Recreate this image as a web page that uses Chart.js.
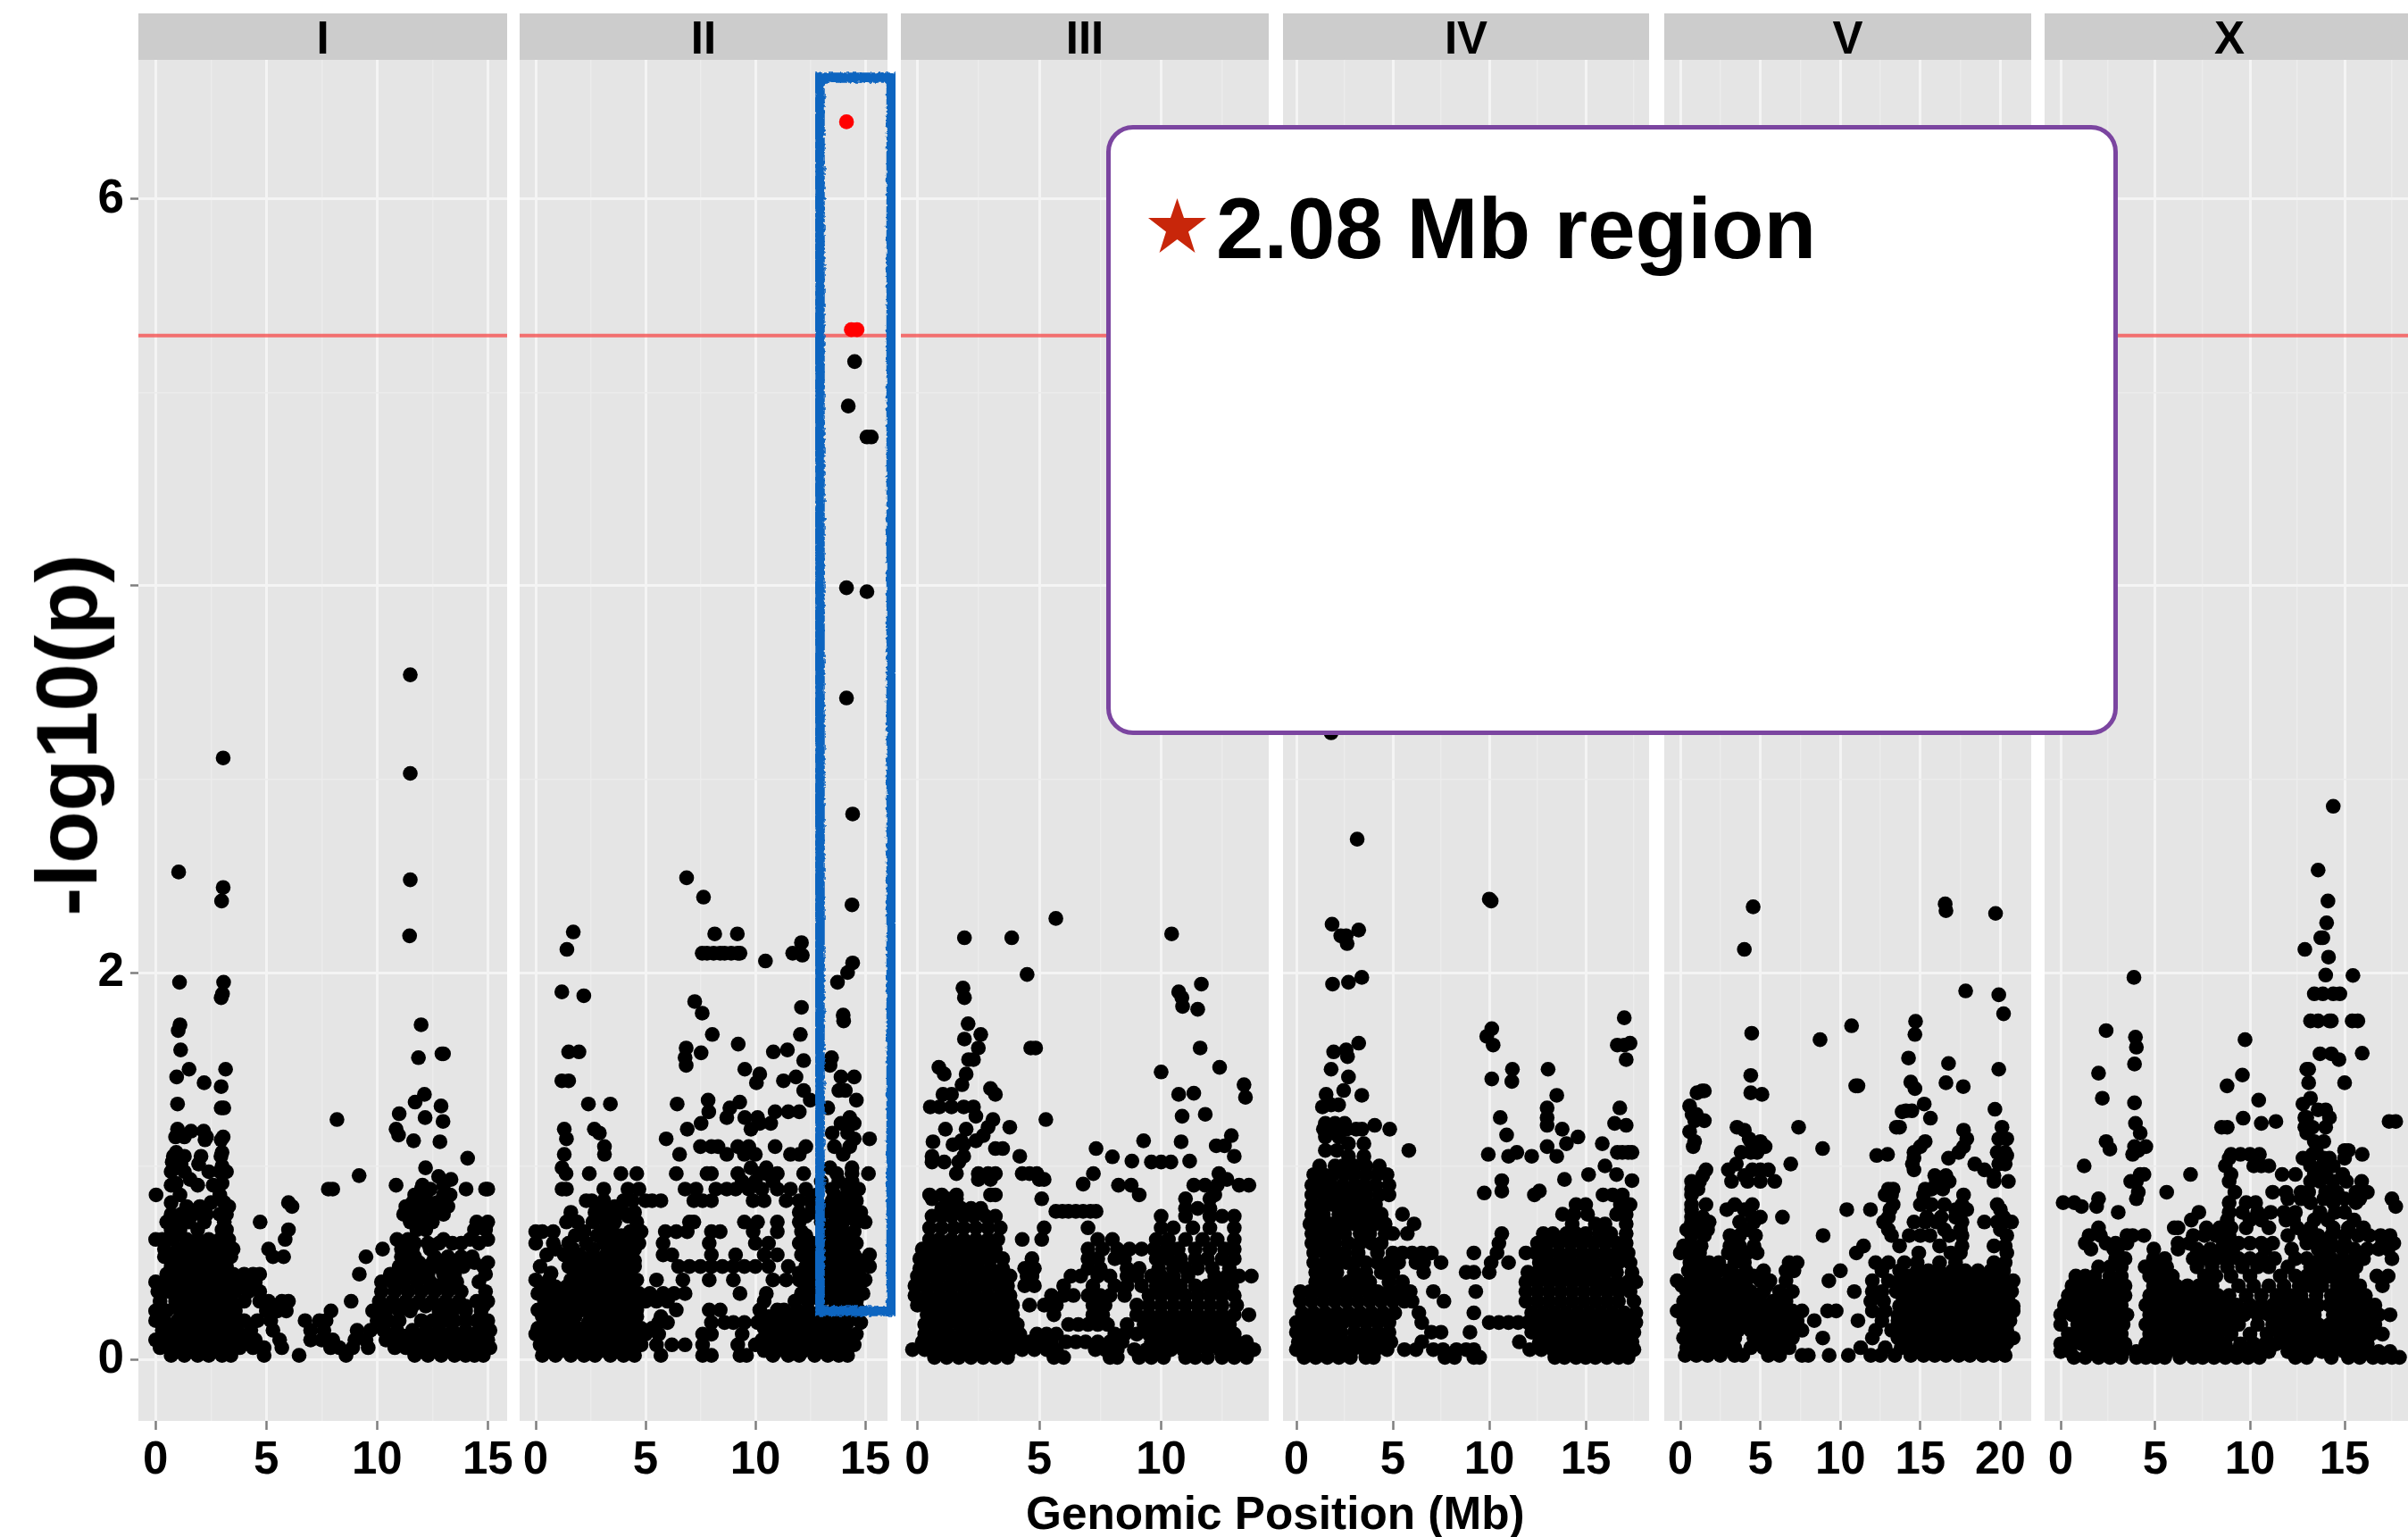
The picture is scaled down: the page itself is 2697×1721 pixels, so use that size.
<!DOCTYPE html>
<html><head><meta charset="utf-8">
<script src="https://cdn.jsdelivr.net/npm/chart.js@4"></script>
<style>
html,body{margin:0;padding:0;background:#fff;width:2697px;height:1721px;overflow:hidden}
canvas{position:absolute;top:0}
.t{position:absolute;font-family:"Liberation Sans",Arial,sans-serif;font-weight:bold;color:#000;white-space:nowrap;line-height:1}
</style></head><body>
<script>
const panelNames=["I","II","III","IV","V","X"];
const xTickLabels=[[0,5,10,15],[0,5,10,15],[0,5,10],[0,5,10,15],[0,5,10,15,20],[0,5,10,15]];
const yTickLabels=[0,2,6];
const threshold=5.295;
// rows: [y, x, x, x ...], in -log10(p) and Mb
const chrI=[[3.54,11.5],[3.11,3.05],[3.03,11.5],[2.52,1.04],[2.48,11.5],[2.44,3.05],[2.37,2.98],[2.19,11.47],[1.95,1.08,3.07],[1.89,3.02],[1.87,2.96],[1.73,1.1,11.99],[1.7,1.02],[1.6,1.13],[1.58,12.93,13],[1.56,11.87],[1.5,1.51,3.16],[1.46,.95],[1.43,2.19],[1.41,2.96],[1.37,12.14],[1.33,11.72],[1.32,.99],[1.31,12.89],[1.3,2.96,3.08],[1.27,11],[1.25,12.17],[1.24,8.19],[1.23,12.98],[1.19,.99,10.86],[1.18,1.6,2.17],[1.16,10.97],[1.15,.9,1.3,2.3,3.05],[1.135,2.23,2.96],[1.13,11.65],[1.125,12.84],[1.07,.93,3],[1.05,.8,1.3,2.05,2.95],[1.04,14.09],[1.02,.75],[1.01,1.15,1.94],[1,3],[.99,12.19],[.97,.7,1.3,2.4,2.9,3.2],[.95,9.19],[.945,12.78],[.93,1.56,13.34],[.91,.93,3],[.9,10.86,1.9,12.05,.7,2.6,13],
[.88,7.8,8,12,12.4,14.02,14.9,15],[.85,1.1,2.9,.02,11.7,12.2,13,13.3],[.81,.7,2.5,3.1,11.6,12.1,12.7,13.1,6],[.79,6.16,11.3,11.9,12.5,13.2,1.4,2,3.3],[.75,1.15,2.9,3.2,11.2,11.6,12,12.6,13,.7,1.7,2.3],[.71,.5,.95,1.5,2.2,3.1,4.72,11.5,12,12.5,14.5,15],[.67,.7,1.1,1.9,3,3.2,6,11.8,12.2,14.4,14.9],[.62,0,.3,.8,1.4,1.9,2.4,2.9,3.3,5.85,10.9,11.4,13,14.2,15],[.6,11.7,12.3,12.8,13.4,13.8,14.6],[.57,.4,1,1.5,2,2.5,3,3.5,5.1,10.25,11.1,11.6,12.4],[.53,.4,.9,1.4,1.9,2.4,2.9,3.4,5.3,5.78,9.5,11.1,11.7,12.6,13.2,13.8,14.3],[.5,11.3,11.9,12.5,13.1,13.7,14.4,15],[.48,.7,1.2,1.7,2.2,2.7,3.2,11,11.6,12.1,12.7,13.3,13.9,14.8],[.44,.5,1,1.5,2,2.5,3,3.5,4,4.4,4.7,9.2,10.6,11.1,11.7,12.3,13,13.5,14.9],[.4,0,.5,1,1.5,2,2.5,3,3.5,4,4.5,10.2,10.7,11.2,11.8,12.4,13,13.6,14.6],[.35,.1,.6,1.1,1.6,2.1,2.6,3.1,3.6,4.2,4.7,10.2,10.8,11.4,12,12.6,13.2,13.8,14.9],[.3,.2,.9,1.4,1.9,2.4,2.9,3.4,4,4.7,5.1,5.7,6,8.83,10.1,10.7,11.3,11.9,12.5,13.1,13.7,14.5,15],[.275,10.4,11,11.6,12.2,12.8,13.4,14,14.8],[.25,0,.5,1.1,1.6,2.1,2.6,3.1,3.6,5,5.5,5.9,7.92,9.8,10.4,11,11.5,12.8,13.4,14,14.7],[.2,0,.4,1,1.5,2,2.5,3,3.5,4,4.6,5.2,6.75,7.4,7.7,10,10.5,11,12,12.5,13,13.5,14,14.5,15],[.15,.3,.7,1.2,1.7,2.2,2.7,3.2,3.7,4.3,5.3,7,7.6,9.1,9.7,10.3,10.9,11.6,12.2,12.8,13.4,14,14.6,15.1],[.12,10.6,11.2,11.8,12.4,13,13.6,14.2,14.8],[.1,0,.5,1,1.5,2,2.5,3,3.5,4,4.5,5.6,7,7.5,8,9,9.5,10.4,11,11.5,12,12.6,13.2,13.8,14.4,15],[.06,.2,.7,1.2,1.7,2.2,2.8,3.3,3.8,4.4,4.9,5.7,7.9,8.3,8.9,9.6,10.8,11.3,11.9,12.5,13,13.6,14.2,14.7,15.1],[.02,.7,1.3,1.9,2.4,3,3.4,4.9,6.48,8.6,11.7,12.3,12.9,13.5,14,14.4,14.8]];
const chrII_red=[[6.4,14.15],[5.325,14.37,14.63]];
const chrII=[[5.16,14.52],[4.93,14.23],[4.77,15.08,15.28],[3.99,14.15],[3.97,15.08],[3.42,14.15],[2.82,14.43],[2.49,6.87],[2.39,7.64],[2.35,14.4],[2.21,1.71],[2.2,8.15,9.18],[2.155,12.1],[2.12,1.42],[2.1,7.58,7.8,8.1,8.4,8.6,8.9,9.2,9.3,11.7],[2.09,12.14],[2.06,10.46],[2.05,14.43],[2,14.2],[1.95,13.74],[1.9,1.19],[1.88,2.19],[1.85,7.24],[1.82,12.1],[1.79,7.58],[1.78,14],[1.75,14.02],[1.68,8.04,12.05],[1.63,9.22],[1.61,6.85],[1.6,11.46],[1.59,1.5,1.97,10.82],[1.585,7.53],[1.56,13.47,6.8],[1.545,12.2],[1.52,6.85,13.4],[1.5,9.52],[1.475,10.2],[1.46,11.85,13.9,14.5],[1.44,1.19,1.5,11.28],[1.43,10.05],[1.39,12.2,13.8,14.1],[1.34,7.85,12.5,14.6],[1.33,9.29],[1.32,2.4,3.4,6.44],[1.3,8.84,13.3],[1.28,7.88,10.9,11.5,12],[1.25,8.7,9.52,10.1,14.3],[1.22,7.53,10.2,10.7,13.9,14.5],[1.19,1.3,6.9,2.67,9.8],[1.17,2.9,13.5,14.2],[1.14,1.4,5.94,14.5,15.2],[1.1,3.13,7.5,8,8.3,9.2,9.7,10.9,12.3,13.6,14.3],[1.06,1.3,3.13,6.55,8.7,9.5,10,11.6,12,14],[.99,1.2,9.8,10.5,13.4,14.4],
[.96,1.38,2.44,3.88,4.6,6.4,7.8,8,9.2,10.2,10.5,11,12.2,13.7,14.4,15.15],[.92,13,13.8,14.4,9.4,10,10.8],[.88,1.2,1.4,3.1,4.2,4.7,6.8,7.3,8.2,8.7,9.1,9.7,10.3,11,11.6,12.3,13.5,14.2,14.7],[.85,12.8,13.6,14.2,14.5],[.82,2.3,2.55,3.1,4,4.4,5,5.3,5.7,7.2,7.6,8,9.9,10.4,11.4,12,12.5,13.5,14,14.6],[.79,12.6,13.3,13.9,14.5,2.9,3.6],[.76,1.6,2.7,3.2,4,4.5,12,12.6,13.5,14.2,14.8],[.74,2.9,3.5,4.2,12.3,13,13.8,14.4],[.71,1.4,1.9,2.6,3.2,3.6,4.6,7.2,7,9.5,10.1,11,12,13,13.6,14,14.6,15],[.66,0,.3,.8,2.2,3,3.5,4.3,4.8,5.9,6.4,6.9,8,8.4,9.9,11,12.1,13.4,14,14.5],[.64,1.8,2.8,3.3,3.9,4.6,12.3,13.2,13.7,14.2],[.6,0,.8,1.5,2.3,3.1,3.6,4.2,4.7,5.8,7.9,10,10.6,12,12.6,13.5,14,14.6],[.57,.9,1.7,2.6,3.3,3.9,4.5,12.3,13,13.8,14.3],[.54,.5,1.3,2,2.6,3.2,3.7,4.3,5.8,6.2,8,9.1,10.4,11,12.1,12.7,13.5,14,14.5,15.2],[.51,1.7,2.3,2.9,3.5,4,4.5,12.4,13,13.6,14.2,14.8],[.48,.2,1.5,2,2.5,3,3.5,4,4.5,6.5,7,7.5,8,8.5,9,9.5,10,10.6,11.5,12.3,12.8,13.3,13.8,14.3,14.8,15.2],[.445,.7,1.8,2.3,2.8,3.3,3.8,4.3,12,12.6,13.1,13.6,14.1,14.7],[.41,0,.6,1.6,2.1,2.6,3.1,3.6,4.1,4.6,5.5,6.7,7.9,9,10.8,11.4,12,12.5,13,13.5,14,14.5,15],[.375,.3,.9,1.4,1.9,2.4,2.9,3.4,3.9,4.4,12.4,13,13.5,14,14.6],[.34,.1,.6,1.1,1.6,2.1,2.6,3.1,3.6,4.1,4.7,5.2,5.8,6.3,6.8,9.3,10.5,12.1,12.7,13.2,13.8,14.3,14.9],[.3,.4,.9,1.4,1.9,2.4,2.9,3.4,3.9,4.4,5,5.5,6,10.4,11.8,12.4,13,13.6,14.1,14.6],[.255,.1,.6,1.1,1.7,2.2,2.7,3.2,3.7,4.2,4.6,6.4,7.9,8.4,10.2,11,11.3,11.9,12.4,13,13.6,14.1,14.7],[.22,.3,.8,1.3,1.8,2.6,3.1,3.6,4.1,4.6,5.7,10.6,11.1,11.7,12.3,12.9,13.5,14,14.5],[.19,.4,.9,1.4,2.4,2.9,3.4,3.9,4.4,5.6,6,8,8.6,9,9.5,10.1,10.7,11.3,11.9,12.5,13,13.6,14.2,14.8],[.16,.1,.7,1.2,1.9,2.3,2.8,3.3,3.8,4.3,4.8,5.3,10.4,11,11.6,12.2,12.8,13.4,14],[.13,0,.6,1.1,1.6,2.1,2.6,3.1,3.6,4.1,4.6,5,5.6,7.6,8,9.4,10.7,11.3,11.9,12.5,13,13.6,14.2,14.6],[.1,.5,1,1.5,2,2.5,3,3.5,4,4.5,10.3,10.9,11.5,12.1,12.7,13.3,13.9,14.4],[.075,.2,.8,1.3,1.8,2.3,2.8,3.3,3.8,4.3,4.8,5.5,6.2,6.8,7.6,9.2,10,10.6,11.2,11.8,12.4,13,13.6,14.2,14.5],[.045,.6,1.2,2,2.5,3,3.6,4.2,10.4,11,11.6,12.2,12.8,13.4,14],[.02,.3,.9,1.6,2.2,2.7,3.4,4,4.5,5.7,7.6,8,9.3,9.6,10.8,11.5,12,12.7,13.3,13.8,14.2]];
const chrIII=[[2.28,5.68],[2.2,10.43],[2.18,1.93,3.87],[1.99,4.5],[1.94,11.65],[1.92,1.87],[1.9,10.72],[1.87,1.93,10.85],[1.825,10.88],[1.81,11.5],[1.735,2.08],[1.68,2.6],[1.656,1.93],[1.61,2.5,4.65,4.85,11.6],[1.55,2.1,2.3],[1.51,.88,12.4],[1.486,10],[1.475,1.1,2],[1.42,1.83,13.4],[1.4,3],[1.37,1.05,1.4,3.2,10.72],[1.376,11.34],[1.355,13.46],[1.305,.53,.9,1.4,1.9,2.3],[1.267,11.81],[1.257,10.86,2.4],[1.24,3.1,5.27],[1.2,3.79,2.9],[1.19,1.15,2],[1.157,12.88,2.7],[1.13,1.8,2.4,9.28],[1.125,.64,10.82],[1.11,1.46,1.9],[1.104,12.26,12.6],[1.09,3.2,3.5,7.33],[1.05,.6,1.9,4.2,13],[1.047,8],[1.025,8.8,11.17],[1.02,10,.6,1.1,1.7,9.6,10.4],[.96,1.6,7.22,12.37,2.5,2.9,3.2,4.3,4.6,4.9],[.93,2.5,3,5,5.2,12.7],[.906,6.8],[.9,8.25,8.77,11.34,11.8,12.3,13.2,13.6],[.85,.5,1,1.6,3,3.2,9.1,12.2],[.83,.6,1.2,1.6,5.1,11,12],[.78,1,1.4,1.8,2.2,2.6,11,11.5,12],[.765,5.68,5.95,6.2,6.5,6.8,7.1,7.33],
[.74,.6,1,1.4,1.9,2.3,2.8,3.2,10,11,12,12.5,13],[.68,.5,1,1.5,1.9,2.4,2.9,3.4,5.2,7,10,10.5,11.3,12,13],[.62,.5,.9,1.4,1.9,2.4,2.9,3.3,4.3,5.1,7.4,8,9.8,10.3,11,11.7,12.3,13],[.57,.2,.7,1.2,1.7,2.2,2.7,3.2,7,7.6,8.2,8.7,9.2,9.7,10.2,10.7,11.4,12,12.6,13],[.52,.1,.6,1.1,1.6,2.1,2.6,3,3.5,4.7,7,7.4,8.1,8.5,9.8,10.3,10.8,11.4,11.9,12.5,13],[.47,.1,.5,1,1.5,2,2.5,3,3.5,4.4,4.8,7,7.5,8.6,9.1,9.9,10.5,11,11.5,12.1,12.8],[.43,0,.4,.9,1.4,1.9,2.4,2.9,3.4,3.8,4.5,4.7,6.3,6.7,7.4,7.9,8.6,9,9.6,10,10.5,11.1,12.2,12.7,13.2,13.7],[.38,-.1,.3,.8,1.3,1.8,2.3,2.8,3.3,3.7,4.4,4.8,6,7.2,8.1,8.6,9.2,9.8,10.3,10.8,11.4,11.9,12.4,12.9],[.33,-.1,.4,.9,1.4,1.9,2.4,2.9,3.4,3.8,5.5,6,6.4,7,7.5,7.9,8.5,9.5,10,10.5,11,11.5,12,12.5,13],[.28,0,.5,1,1.5,2,2.5,3,3.5,3.9,4.6,5.2,5.7,7.2,7.7,9,9.5,10,10.5,11,11.5,12,12.5,13.1],[.23,.4,.9,1.4,1.9,2.4,2.9,3.4,3.9,5.6,7.2,7.6,9,9.5,10,10.5,11,11.5,12,12.5,13,13.6],[.18,.3,.7,1.2,1.7,2.2,2.7,3.2,3.7,4.1,6.2,6.6,7,7.4,7.8,8.6,9.3,9.8,10.3,10.8,11.3,11.8,12.3,12.8],[.13,.3,.8,1.3,1.8,2.3,2.8,3.3,3.8,4.2,4.9,5.3,5.7,8.1,8.5,9,9.5,10,10.5,11,11.5,12,12.5,13],[.09,.2,.6,1.1,1.6,2.1,2.6,3.1,3.6,4.1,4.6,5.1,5.5,6.1,6.5,6.9,7.4,7.9,8.4,9.6,10.1,10.6,11.1,11.6,12.1,12.6,13.1,13.5],[.05,-.2,.3,.8,1.3,1.8,2.3,2.8,3.3,3.8,4.3,4.8,5.3,5.7,7.3,7.7,8.2,8.9,9.4,9.9,10.4,10.9,11.4,11.9,12.4,12.9,13.4,13.8],[.01,.7,1.2,1.7,2.2,2.7,3.2,3.7,5.6,6,7.9,8.2,9.1,9.6,10.1,11,11.4,11.9,12.5,13,13.5]];
const chrIV=[[3.24,1.8],[2.69,3.15],[2.38,10],[2.37,10.1],[2.25,1.85],[2.22,3.23],[2.19,2.58,2.3],[2.15,2.63],[1.975,3.39],[1.95,2.7],[1.94,1.875],[1.766,17],[1.71,10.13],[1.67,9.87],[1.635,3.23,17.3],[1.625,10.2,16.64,17],[1.6,2.58],[1.59,1.93],[1.565,2.65],[1.55,17.1],[1.5,1.8,11.2,13.05],[1.46,2.7],[1.45,10.13],[1.437,11.17],[1.39,2.45],[1.365,3.39,13.5],[1.37,1.54],[1.316,2.19,1.8],[1.305,1.35],[1.3,13,16.77],[1.25,13,10.57],[1.22,1.5,2,2.5,16.5],[1.21,13,4.06,17.1],[1.19,4.84,13.78,1.4,2,2.6,3.1,3.4],[1.16,10.9],[1.15,14.6,1.5,2.2],[1.115,14,15.86,3.5,2.7],[1.1,13],[1.08,5.83,1.5,2.1],[1.07,11.43,16.64,16.9,17.2,17.4],[1.06,9.95],[1.05,11,12.2,13.5,2.7,3.5],[1,1.2,2,2.4,3,3.6,4.3,16],[.955,15.15,.9,1.4,1.9,2.5,3,3.6,4.2,4.7,16.6],[.93,13.9],[.924,17.4,10.65],[.9,.8,1.3,1.8,2.4,3,3.5,4.1,4.8],[.87,10.65,12.6],[.86,9.74],[.85,.8,1.4,2,2.6,3.1,3.6,4.3,4.8,15.9,16.4,16.9,12.34],[.8,.8,1.3,1.9,2.5,3,3.6,4.1,14.5,15,16.8,17.3],
[.75,.8,1.4,2.2,2.8,3.4,4,4.4,5.5,13.8,14.4,15.1,16.6,17.1],[.7,.7,1.3,1.8,2.4,3,3.5,4.1,4.6,6.1,14.3,15.5,16,17.1],[.65,.8,1.3,1.9,2.5,3.3,3.8,4.6,5,5.75,10.65,12.8,13.3,14,14.5,15,15.7,16.3,17.1],[.6,.8,1.4,2,2.7,3.3,3.9,4.4,10.5,12.5,13,13.6,14.2,14.8,15.4,16,16.6,17.1],[.55,.9,1.5,2,2.5,3.2,4.2,5,5.5,6,6.5,7,9.2,10.4,11.9,12.4,13,13.6,14.2,14.8,15.4,16,16.6,17.2],[.5,.9,1.5,2.1,2.6,3,3.6,4.2,4.8,5.3,6.2,6.6,7.5,11,10.1,12.6,13.1,13.7,14.3,14.9,15.5,16.1,16.7,17.3],[.45,1,1.6,2.1,3,3.6,4.4,5,6.6,8.8,9.2,10,12,12.5,13,13.6,14.2,14.8,15.4,16,16.6,17.4],[.4,1,1.5,2.1,2.7,3.2,3.8,4.8,5.5,11.9,12.5,13.1,13.7,14.3,14.9,15.5,16,16.6,17.2,17.6],[.35,.2,.7,1.3,1.9,2.5,3.1,3.7,4.2,4.8,5.3,5.9,7.1,9.3,11.9,12.5,13.1,13.7,14.3,14.9,15.5,16.1,16.7,17.3],[.3,.2,.8,1.4,2,2.6,3.2,3.8,4.4,5,5.6,6,7.65,11.9,12.5,13.1,13.7,14.3,14.9,15.5,16.1,16.7,17.5],[.24,.3,.9,1.5,2.1,2.7,3.3,3.9,4.5,5.1,6.35,9.2,12.2,12.8,13.4,14,14.6,15.2,15.8,16.4,17,17.6],[.19,0,.6,1.2,1.8,2.4,3,3.6,4.2,4.8,6.5,10,10.5,11,11.5,12,12.3,12.9,13.5,14.1,14.7,15.3,15.9,16.5,17.1,17.6],[.14,0,.5,1.1,1.7,2.3,3,3.6,4.2,4.8,7,7.5,9,12.2,12.8,13.4,14,14.6,15.2,15.8,16.4,17,17.5],[.09,.1,.7,1.3,1.9,2.5,3.1,3.7,4.3,4.9,6.5,11.56,12.6,13.2,13.8,14.4,15,15.6,16.2,16.8,17.4],[.05,0,.5,1.1,1.7,2.3,2.9,3.5,4.1,4.7,5.6,6.2,7.1,7.6,8.3,8.8,9.2,12.1,12.7,13.3,13.9,14.5,15.1,15.7,16.3,16.9,17.5],[.01,.4,1,1.6,2.2,2.8,3.6,4,7.7,8.2,9.2,9.5,13.4,13.9,14.5,15,15.5,16.1,16.7,17.2]];
const chrV=[[2.355,16.55],[2.34,4.55],[2.32,16.6],[2.306,19.7],[2.12,4],[1.905,17.83],[1.885,19.9],[1.787,20.2],[1.748,14.7],[1.725,10.7],[1.686,4.46],[1.68,14.66],[1.653,8.73],[1.558,14.26],[1.53,16.76],[1.5,19.9],[1.468,4.4],[1.434,14.4],[1.43,16.6],[1.414,10.96,11.1],[1.41,17.68],[1.4,14.66],[1.388,1.5,1.35],[1.378,1.04,4.4],[1.37,5.1],[1.32,15.24],[1.31,.58],[1.293,19.66],[1.285,14.47,14.1],[1.28,13.86],[1.267,.73,1],[1.247,15.63],[1.234,1.5,.9],[1.2,3.54,7.39,13.5,20.1,13.7],[1.185,4,17.7],[1.177,.58],[1.14,4.3,17.9,19.9,20.4],[1.126,.89,5,15.3,4.4],[1.1,4.8,5.3,17.7,15,.8],[1.09,8.89],[1.07,14.6,17.4,19.8,20.3,3.8,4.4,4.8],[1.054,12.27,20.4],[1.06,12.95],[1.04,16.76,14.6],[1.01,6.9,3.5,14.5,18.4,19.9,20.3],[.98,1.6,3,4.5,5,5.5,14.6,19],[.95,1.4,4,19.6,15.9,16.6],[.92,.7,1.2,3.2,4.2,5,5.9,16,16.8,19.6,20.5],[.88,.7,1.1,13,13.3,15.3,15.7,16.4],[.85,.7,12.8,13.2,15.2,17.7],[.8,.7,1.6,3.4,4.5,13.3,15,15.7,16.5,17.6,19.8],[.774,.7,2.9,4,10.4,11.88,13.1,17.2,17.9,20],[.735,6.38,.7,1.4,4.5,5,13,15.4,16.3,17.2,20.2],[.71,.7,1.2,1.8,3.7,4.6,19,12.7,14.6,15.3,16,17.6,19.8,20.7],[.67,.4,1.2,1.7,4.2,13,16.5,17.5,20],[.64,8.92,3.1,3.7,.7,1.5,4.7,13.2,14.3,15,15.6,16.8,17.6,20.4],[.586,.2,.6,1.3,3.1,3.7,4.6,11.45,13.7,16.2,17.6,19.6,20.3],[.55,0,.6,1.2,3,3.6,4.2,4.8,11,14.9,16.9,17.5,20.4],[.5,.6,1.2,1.8,2.4,3.4,4,6.8,7.3,12.2,13,14,14.8,16.2,17.2,19.6,20.3],[.458,.5,1.2,1.8,2.4,3,4.1,5.2,6.6,7.1,10,12.6,13.7,14.8,15.5,16.2,17,17.8,18.6,19.4,20.2],[.43,.9,1.6,3.5,4.6,14.3,15.1,15.9,16.7,17.4,18.2,19,19.8],[.406,-.2,.6,1.4,2.2,3,3.8,5,5.6,6.6,9.28,12,13,13.7,14.5,15.3,16.1,16.9,17.7,18.5,19.3,20.1,20.8],[.38,.1,.9,1.7,2.5,3.3,4.1,5.4,14,14.8,15.6,16.4,17.2,18,18.8,19.6,20.4],[.35,.4,1.2,2,2.8,3.6,4.4,5.2,6.2,7,10.87,12,12.6,13.5,14.3,15.1,15.9,16.7,17.5,18.3,19.1,19.9,20.7],[.325,.7,1.5,2.3,3.1,3.9,4.7,6.6,12.4,13.9,14.7,15.5,16.3,17.1,17.9,18.7,19.5,20.3],[.3,.2,1,1.8,2.6,3.4,4.2,5,5.8,6.6,11.9,12.7,14,14.8,15.6,16.4,17.2,18,18.8,19.6,20.5],[.275,.5,1.3,2.1,2.9,3.7,4.5,5.4,6.2,13.7,14.4,15.2,16,16.8,17.6,18.4,19.2,20,20.8],[.25,-.2,.6,1.4,2.2,3,3.8,4.6,5.4,6.2,7,7.6,9.2,9.74,12,12.8,14,14.8,15.6,16.4,17.2,18,18.8,19.6,20.4,20.8],[.225,.2,1,1.8,2.6,3.4,5,5.8,6.6,13.6,14.4,15.2,16,16.8,17.6,18.4,19.2,20],[.2,.2,1,1.8,2.6,3.4,4.2,5,5.8,6.6,7.3,8.37,11.1,12.6,13.6,14.4,15.2,16,16.8,17.6,18.4,19.2,20,20.6],[.175,.7,1.5,2.3,3.1,3.9,4.9,5.7,6.5,7.3,14,14.8,15.6,16.4,17.2,18,18.8,19.6,20.4],[.15,.4,1.2,2,2.8,3.6,4.4,5.2,6,6.8,7.6,12.2,13.2,14,14.8,15.6,16.4,17.2,18,18.8,19.6,20.4],[.11,.2,1,1.8,2.6,3.4,4.6,5.4,6.2,7,8.9,12,13.6,14.4,15.2,16,16.8,17.6,18.4,19.2,20,20.8],[.085,.7,1.5,2.2,3,5,5.8,6.6,14,14.8,15.6,16.4,17.2,18,18.8,19.6,20.4],[.06,.4,1.2,2,2.8,3.4,4.4,5.2,6,6.8,11.27,12.8,13.8,14.6,15.4,16.2,17,17.8,18.6,19.4,20.2],[.02,.3,1,1.7,2.5,3.4,3.9,5.5,6.2,7.6,8,9.3,10.5,11.9,12.5,13.4,14.4,15.2,15.9,16.6,17.4,18.1,18.9,19.6,20.3]];
const chrX=[[2.86,14.4],[2.53,13.6],[2.37,14.12],[2.257,14.05],[2.18,13.74,13.85],[2.12,12.9],[2.08,14.15],[1.987,14],[1.985,15.44],[1.975,3.87],[1.89,13.4,13.85,14.4,14.75],[1.75,13.2,13.6,14.2,14.3,15.4,15.7],[1.7,2.4],[1.666,3.95],[1.653,9.74],[1.614,4],[1.583,15.93],[1.58,13.7,14.3],[1.55,14.7],[1.527,3.9],[1.5,13,13.1],[1.48,2],[1.47,9.6],[1.43,15,13.1],[1.414,8.79],[1.35,2.2,13.2],[1.34,10.46],[1.326,3.9],[1.32,12.8],[1.29,13.6,14],[1.25,12.9,13,14.2],[1.247,9.64],[1.23,11.37,17.35,17.7],[1.22,10.6,3.95],[1.2,8.5,8.8,12.9,13.3,14],[1.17,4.2,13],[1.126,2.4,13.4,13.9],[1.087,2.6],[1.1,3.9,4.5],[1.08,4.1,15,15.2,13.5],[1.06,9,9.5,10,10.5,15.93,3.8,13.3],[1.04,8.9,12.8,13.9,14.2,15],[1,1.24,8.7,10.2,10.6,11,13.2,13.8,14.4],[.956,6.86,4.4,4.2,9,11.7,12.4,13.4,14,14.9],[.92,3.7,4,8.9,13.2,13.7,14.4,15.1,15.9],[.864,5.6,4.1,9.2,11.2,11.9,12.7,13.1,14,14.6,15.6,16.2],[.83,2,4,12,12.7,13.9,15,15.8,17.5],[.81,.13,.72,8.9,9.8,10.3,13.2,14.4,15.6],[.79,1.1,1.9,17.7],[.76,3.04,7.3,8.9,9.6,10.4,11.1,11.8,12.4,13.7,14.5,15],[.72,6.9,8.8,10,10.6,11.9,12.3,13.4,14.1,15.5],[.68,2,7.7,6.2,6,8.4,9,9.8,11,12.5,13.2,14.4,15.2,16],[.64,1.5,2.1,3.5,3.8,4.4,7,7.6,8.2,8.9,12,12.9,13.6,14.3,15,15.7,16.3,16.9,17.4],[.6,1.3,2.4,2.9,3.5,6.2,6.8,8.6,9.4,10,10.6,11.2,13,13.7,14.3,15,17,17.6],[.57,4.92,3,1.6,2.8,6.2,7.2,7.9,8.5,9.1,10.8,12.2,13.6,14.2,14.9,15.5,16.2,16.8,17.3],[.52,2.9,3.4,4.9,5.5,7,7.6,8.2,8.8,9.4,10,10.6,11.3,12.4,13,13.7,14.3,14.9,15.5,16,17.5],[.478,2,2.6,3.2,4.46,5,5.6,7.2,8,8.8,9.6,10.4,11,12,13.2,13.8,14.4,15,15.6],[.43,.8,1.3,1.8,2.6,3.2,4.7,5.3,5.9,7.6,8.2,9,10,11.6,12.4,13,13.6,14.2,14.8,15.4,16.7,17.3],[.38,.6,1.1,1.7,2.3,2.9,3.4,4.9,5.5,6.1,6.7,7.3,8,9.4,10.2,11,11.8,12.6,13.2,13.8,14.6,15.2,15.8,17],[.33,.4,1,1.6,2.2,2.8,3.4,4.7,5.3,5.9,6.5,7.1,7.7,8.3,8.9,9.8,10.6,11.4,12.1,12.7,13.5,14.3,14.9,15.5,16.1],[.28,.2,.8,1.4,2,2.6,3.2,4.5,5.1,5.7,6.3,6.9,7.5,8.1,8.7,9.3,10,10.6,11.2,11.8,12.4,13,13.6,14.2,14.8,15.4,16,16.6],[.23,0,.6,1.2,1.8,2.4,3,3.5,4.7,5.3,5.9,6.5,7.1,7.7,8.3,9,9.7,10.4,11,11.6,12.2,12.8,13.4,14.4,15,15.6,16.2,16.8,17.4],[.18,0,.9,1.5,2.1,2.7,3.3,4.5,5.1,5.7,6.3,6.9,7.5,8.1,8.7,9.4,10.4,11.2,11.8,12.4,13,13.6,14.2,14.8,15.4,16,16.6],[.13,.4,.8,1.4,2,2.6,3.2,4.7,5.3,5.9,6.5,7.1,7.7,8.3,9,10,10.9,11.6,12.2,12.8,13.4,14,14.6,15.2,15.8,16.4,17],[.08,0,.6,1.1,1.7,2.3,2.9,3.4,4.5,5.1,5.7,6.3,6.9,7.5,8.1,8.7,9.5,10.2,10.8,11.4,12,12.6,13.2,13.8,14.4,15,15.6,16.2],[.04,0,.5,1.5,2.1,2.7,3.3,4,5,5.6,6.2,6.8,7.4,8,8.6,9.2,9.8,10.4,11,12,12.6,13.2,13.8,14.4,15,15.6,16.2,16.8,17.4],[.01,.7,1.3,2,2.6,3.2,4,4.5,5,5.5,6.3,7,7.5,8.1,8.7,9.3,9.9,10.5,12.4,13,14.3,15.2,15.8,16.5,17,17.5,17.9]];
const chrRows=[chrI,chrII,chrIII,chrIV,chrV,chrX];

const panelBox=[[155,568,174.3,24.8],[582,994,600,24.6],[1009,1421,1027.5,27.3],[1437,1847,1452,21.6],[1863.5,2274,1881.5,17.9],[2290,2704,2308,21.2]];
const plotTop=67,plotBottom=1591,stripTop=15;
const toPts=rows=>rows.flatMap(r=>r.slice(1).map(x=>({x,y:r[0]})));

const stripPlugin={id:'strip',beforeDraw(c,_,o){
  const a=c.chartArea,g=c.ctx;
  g.save();
  g.fillStyle='#cccccc';g.fillRect(a.left,stripTop,a.right-a.left,plotTop-stripTop);
  g.fillStyle='#000';g.font='bold 51px "Liberation Sans"';g.textAlign='center';g.textBaseline='alphabetic';
  g.fillText(o.name,(a.left+a.right)/2,60);
  g.fillStyle='#e5e5e5';g.fillRect(a.left,a.top,a.right-a.left,a.bottom-a.top);
  g.restore();
}};

panelBox.forEach((b,i)=>{
  const first=i===0;
  const padL=60,padR=60;
  const cv=document.createElement('canvas');
  const left=first?0:b[0]-padL;
  const W=Math.round(b[1]-left+padR);
  cv.width=W;cv.height=1721;cv.style.left=left+'px';cv.style.width=W+'px';cv.style.height='1721px';
  document.body.appendChild(cv);
  const xmin=(b[0]-b[2])/b[3],xmax=(b[1]-b[2])/b[3];
  const labels=xTickLabels[i];
  const datasets=[
    {type:'line',data:[{x:xmin,y:threshold},{x:xmax,y:threshold}],borderColor:'rgba(245,90,90,.85)',borderWidth:4,pointRadius:0,order:5},
    {type:'scatter',data:toPts(chrRows[i]),backgroundColor:'#000',borderWidth:0,pointRadius:8.3,order:2}
  ];
  if(i===1)datasets.push({type:'scatter',data:toPts(chrII_red),backgroundColor:'#ff0000',borderWidth:0,pointRadius:8.3,order:1});
  new Chart(cv,{type:'scatter',data:{datasets},plugins:[stripPlugin],options:{
    responsive:false,animation:false,devicePixelRatio:1,
    layout:{autoPadding:false,padding:{left:first?0:padL,right:padR,top:plotTop,bottom:0}},
    plugins:{legend:{display:false},tooltip:{enabled:false},strip:{name:panelNames[i]}},
    scales:{
      x:{type:'linear',min:xmin,max:xmax,border:{display:false},
        afterFit(s){s.height=1721-plotBottom;},
        afterBuildTicks(s){const t=[];for(let v=0;v<=xmax;v+=2.5)t.push({value:v});s.ticks=t;},
        grid:{color:c=>c.tick&&c.tick.value%5===0?'#f4f4f4':'#ececec',lineWidth:c=>c.tick&&c.tick.value%5===0?3:1.5,tickLength:10,
          tickColor:c=>c.tick&&c.tick.value%5===0?'#7f7f7f':'rgba(0,0,0,0)',tickWidth:2.5},
        ticks:{autoSkip:false,maxRotation:0,minRotation:0,padding:4,color:'#000',font:{family:'"Liberation Sans"',weight:'bold',size:51},
          callback:v=>labels.includes(v)?String(v):''}},
      y:{type:'linear',min:(1522-plotBottom)/216.5,max:(1522-plotTop)/216.5,border:{display:false},
        afterFit(s){s.width=first?155:0;},
        afterBuildTicks(s){s.ticks=[0,1,2,3,4,5,6].map(value=>({value}));},
        grid:{color:c=>c.tick&&c.tick.value%2===0?'#f4f4f4':'#ececec',lineWidth:c=>c.tick&&c.tick.value%2===0?3:1.5,drawTicks:first,tickLength:9,
          tickColor:c=>c.tick&&c.tick.value%2===0?'#7f7f7f':'rgba(0,0,0,0)',tickWidth:2.5},
        ticks:{display:first,padding:7,color:'#000',font:{family:'"Liberation Sans"',weight:'bold',size:53},
          callback:v=>yTickLabels.includes(v)?String(v):''}}
    }}});
});
</script>
<!-- hand-drawn highlight rectangle -->
<svg style="position:absolute;left:0;top:0" width="2697" height="1721">
<defs><filter id="rough" x="-5%" y="-2%" width="110%" height="104%"><feTurbulence type="fractalNoise" baseFrequency="0.25" numOctaves="2" seed="4"/><feDisplacementMap in="SourceGraphic" scale="5"/></filter></defs>
<rect x="918" y="87" width="80.5" height="1381" fill="none" stroke="#0f65c0" stroke-width="11.5" filter="url(#rough)"/>
</svg>
<div style="position:absolute;left:1239px;top:140px;width:1133px;height:683px;box-sizing:border-box;background:#fff;border:5px solid #7b45a0;border-radius:30px"></div>
<svg style="position:absolute;left:1286px;top:222px" width="66" height="62" viewBox="0 0 66 62"><polygon points="32.5,0 40,22 65,22 45,37.5 52.5,61 32.5,46 12.5,61 20,37.5 0,22 25,22" fill="#c8260a"/></svg>
<div class="t" style="left:1362px;top:208px;font-size:96px">2.08 Mb region</div>
<div class="t" style="left:1149px;top:1669px;font-size:51.3px">Genomic Position (Mb)</div>
<div class="t" style="left:102px;top:823px;font-size:96px;transform-origin:0 0;transform:rotate(-90deg) translate(-50%,-78%)">-log10(p)</div>
</body></html>
